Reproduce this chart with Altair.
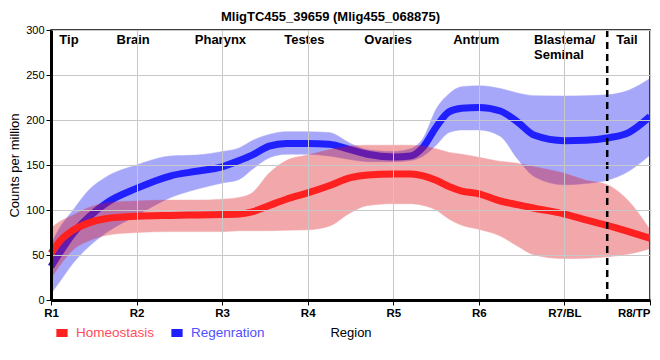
import json
import altair as alt
import pandas as pd

# ---- data ----
series_names = ["Homeostasis", "Regenration"]
x_labels = ["R1", "R2", "R3", "R4", "R5", "R6", "R7/BL", "R8/TP"]

x_pos = [1.0, 1.1, 1.25, 1.45, 1.65, 2.0, 2.4, 2.7, 3.0, 3.2, 3.35, 3.55, 3.75, 4.0, 4.25,
         4.5, 4.7, 5.0, 5.2, 5.35, 5.5, 5.65, 5.8, 6.0, 6.25, 6.45, 6.65, 7.0, 7.25, 7.5, 7.75, 8.0]

home_mid = [52, 65, 77, 86, 90.5, 93, 94, 94.5, 95, 95.5, 98, 105, 112, 119, 127,
            136, 139, 140, 140, 138, 133, 126, 121, 118, 110, 106, 102, 95.5, 89, 83, 76, 68.5]
home_hi = [80, 87, 94, 103, 108, 110, 111, 111, 112, 114, 119, 141, 155, 161, 167,
           171, 172, 172, 172, 171, 168, 164, 162, 158.5, 154, 152, 148, 140.7, 133, 128, 110, 78]
home_lo = [24, 38, 55, 66, 72, 75, 76, 76, 76, 77, 77, 77, 77.5, 78, 82,
           97, 105, 107, 107, 105, 100, 90, 83, 78.5, 71, 60, 50, 46, 46.5, 48, 51, 57]

regen_mid = [37, 52, 73, 93, 108, 124, 138, 143, 148, 155, 161, 171, 174, 174, 173,
             167, 162, 159, 160, 170, 192, 209, 213, 214, 210, 198, 183, 177, 177.5, 180, 186, 204]
regen_hi = [62, 80, 99, 123, 137, 150, 160, 161, 165, 169, 177, 184, 187, 187, 186,
            174, 167, 165, 168, 180, 212, 229, 237, 238, 235, 230, 227, 226.7, 227, 228, 233, 246]
regen_lo = [7, 20, 40, 60, 75, 94, 114, 123, 130, 134, 145, 158, 162, 162, 160,
            156, 153.7, 153.7, 155, 160, 172, 186, 189, 189, 182, 157, 137, 128, 129.5, 133, 143, 161]

region_names = ["Tip", "Brain", "Pharynx", "Testes", "Ovaries", "Antrum", "Tail"]
region_x = [1.21, 1.96, 2.98, 3.96, 4.94, 5.97, 7.73]
blastema_name = ["Blastema/\nSeminal"]
blastema_x = [6.645]
label_y = 284
divider_x = [7.5]

# ---- tables ----
rows = []
for i, x in enumerate(x_pos):
    rows.append({"x": x, "series": series_names[0], "mid": home_mid[i], "lo": home_lo[i], "hi": home_hi[i]})
    rows.append({"x": x, "series": series_names[1], "mid": regen_mid[i], "lo": regen_lo[i], "hi": regen_hi[i]})
df = pd.DataFrame(rows)

lab_df = pd.DataFrame({"x": region_x, "y": [label_y] * len(region_x), "label": region_names})
bl_df = pd.DataFrame({"x": blastema_x, "y": [label_y], "label": blastema_name})
div_df = pd.DataFrame({"x": divider_x})

xscale = alt.Scale(domain=[1, 8], nice=False, zero=False)
yscale = alt.Scale(domain=[0, 300], nice=False)

label_expr = json.dumps(x_labels) + "[round(datum.value) - 1]"
x_axis = alt.Axis(values=list(range(1, 9)), labelExpr=label_expr, title="Region",
                  labelFontWeight="bold", labelFontSize=11.5, labelFlush=False, labelOverlap=False,
                  labelAlign={"condition": {"test": "datum.value == 8", "value": "right"}, "value": "center"},
                  titleFontWeight="normal", titleFontSize=13, titlePadding=8,
                  domainWidth=3, tickSize=5, labelPadding=2, zindex=1)
y_axis = alt.Axis(values=[0, 50, 100, 150, 200, 250, 300], title="Counts per million",
                  labelFontSize=11, titleFontWeight="normal", titleFontSize=13, titlePadding=4,
                  domainWidth=3, tickSize=5, labelPadding=2, zindex=1)

base = alt.Chart(df)

color = alt.Color("series:N",
                  scale=alt.Scale(domain=series_names, range=["#ff2020", "#2020ff"]),
                  legend=alt.Legend(orient="none", legendX=1, legendY=293, direction="horizontal",
                                    title=None, symbolType="stroke", symbolStrokeWidth=8,
                                    symbolSize=127, labelFontSize=13.5, labelOffset=4,
                                    columnPadding=0, padding=0,
                                    labelColor=alt.ExprRef("datum.label == 'Homeostasis' ? '#ff4b5c' : '#5050ff'")))

def band(name, col):
    return base.transform_filter(alt.datum.series == name).mark_area(
        interpolate="monotone", color=col, opacity=0.37, stroke=col, strokeOpacity=0.5, strokeWidth=1
    ).encode(
        x=alt.X("x:Q", scale=xscale, axis=x_axis),
        y=alt.Y("lo:Q", scale=yscale, axis=y_axis),
        y2="hi:Q",
    )

def line(name):
    return base.transform_filter(alt.datum.series == name).mark_line(
        interpolate="monotone", strokeWidth=7
    ).encode(
        x=alt.X("x:Q", scale=xscale, axis=x_axis),
        y=alt.Y("mid:Q", scale=yscale, axis=y_axis),
        color=color,
    )

labels = alt.Chart(lab_df).mark_text(fontWeight="bold", fontSize=13, align="center",
                                     baseline="alphabetic", color="black").encode(
    x=alt.X("x:Q", scale=xscale), y=alt.Y("y:Q", scale=yscale), text="label:N")
bl_label = alt.Chart(bl_df).mark_text(fontWeight="bold", fontSize=13, align="left",
                                      baseline="alphabetic", color="black",
                                      lineBreak="\n", lineHeight=15).encode(
    x=alt.X("x:Q", scale=xscale), y=alt.Y("y:Q", scale=yscale), text="label:N")
divider = alt.Chart(div_df).mark_rule(color="black", strokeWidth=2.5, strokeDash=[7, 5]).encode(
    x=alt.X("x:Q", scale=xscale))

chart = alt.layer(
    band("Regenration", "#1414f0"),
    line("Regenration"),
    band("Homeostasis", "#dc141e"),
    line("Homeostasis"),
    divider,
    labels,
    bl_label,
).properties(
    width=599, height=270,
    title=alt.TitleParams("MligTC455_39659 (Mlig455_068875)", fontSize=13, fontWeight="bold",
                          anchor="middle", dx=-20, offset=0, color="black"),
    autosize=alt.AutoSizeParams(type="none"),
    padding={"left": 43, "top": 22, "right": 1, "bottom": 50},
).configure(font="Liberation Sans").configure_view(
    stroke="black", strokeWidth=1.5
).configure_axis(
    gridColor="#c8c8c8", gridWidth=1, domainColor="black", tickColor="black",
    labelColor="black", titleColor="black", labelFont="Liberation Sans", titleFont="Liberation Sans"
).configure_legend(labelFont="Liberation Sans")

chart.save("out.html", embed_options={"renderer": "svg", "actions": False})
